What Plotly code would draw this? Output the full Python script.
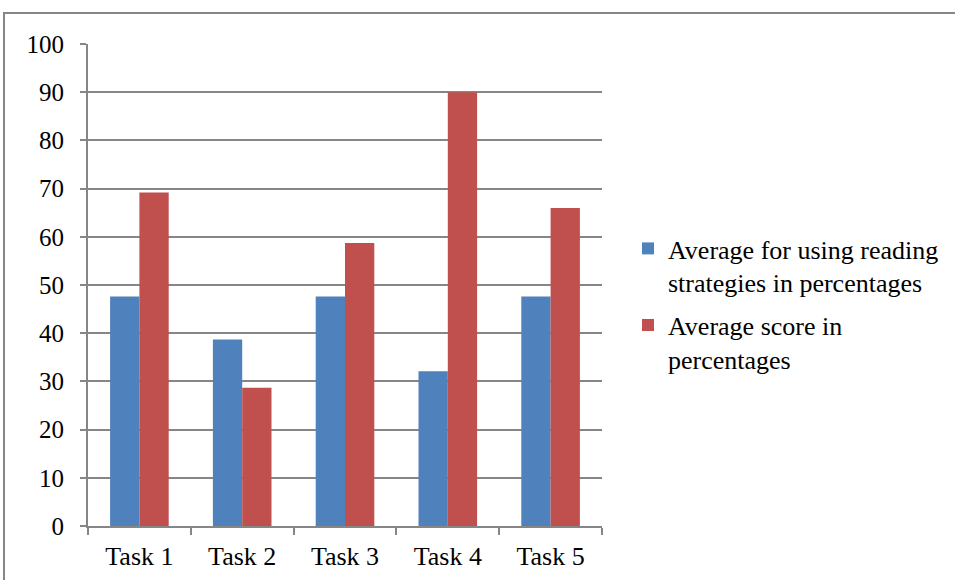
import plotly.graph_objects as go

# Task categories and the two series (percentages)
tasks = ["Task 1", "Task 2", "Task 3", "Task 4", "Task 5"]
strategy_avg = [47.6, 38.7, 47.6, 32.1, 47.6]
score_avg = [69.2, 28.7, 58.7, 90.0, 66.0]
y_ticks = [0, 10, 20, 30, 40, 50, 60, 70, 80, 90, 100]

series_names = [
    "Average for using reading<br>strategies in percentages",
    "Average score in<br>percentages",
]

GRAY = "#868686"
FONT = "Liberation Serif, Times New Roman, serif"

fig = go.Figure()
fig.add_trace(go.Bar(
    x=tasks, y=strategy_avg, name=series_names[0], legendgroup="a",
    marker=dict(color="#4F81BD", line=dict(width=0)),
))
fig.add_trace(go.Bar(
    x=tasks, y=score_avg, name=series_names[1], legendgroup="b",
    marker=dict(color="#C0504D", line=dict(width=0)),
))

L, R, T, B = 88, 353, 44, 54
W, H = 955, 580
pw, ph = W - L - R, H - T - B

# outer chart frame (left and top edges visible)
fig.add_shape(
    type="rect", xref="paper", yref="paper",
    x0=(4 - L) / pw, x1=(W + 20 - L) / pw,
    y0=-(B + 20) / ph, y1=1 + (T - 13) / ph,
    line=dict(color=GRAY, width=2), fillcolor="rgba(0,0,0,0)", layer="below",
)

fig.update_layout(
    width=W, height=H,
    margin=dict(l=L, r=R, t=T, b=B, autoexpand=False),
    paper_bgcolor="white", plot_bgcolor="white",
    barmode="group", bargap=0.43, bargroupgap=0,
    font=dict(family=FONT, size=25, color="black"),
    showlegend=True,
    legend=dict(
        x=(628 - L) / pw, y=(H - B - 304) / ph, xanchor="left", yanchor="middle",
        font=dict(family=FONT, size=26, color="black"),
        valign="top", itemwidth=30, tracegroupgap=6,
        bgcolor="rgba(0,0,0,0)",
    ),
    xaxis=dict(
        type="category", showline=True, linecolor=GRAY, linewidth=2,
        ticks="outside", ticklen=7, tickcolor=GRAY, tickwidth=2,
        tickson="boundaries", showgrid=False, zeroline=False,
        ticklabelstandoff=6,
        tickfont=dict(family=FONT, size=26, color="black"),
    ),
    yaxis=dict(
        range=[0, 100], tickvals=y_ticks, showline=True, linecolor=GRAY, linewidth=2,
        ticks="outside", ticklen=6, tickcolor=GRAY, tickwidth=2,
        showgrid=True, gridcolor=GRAY, gridwidth=2, zeroline=False,
        ticklabelstandoff=11,
        tickfont=dict(family=FONT, size=25, color="black"),
    ),
)

fig.write_html("out.html")
